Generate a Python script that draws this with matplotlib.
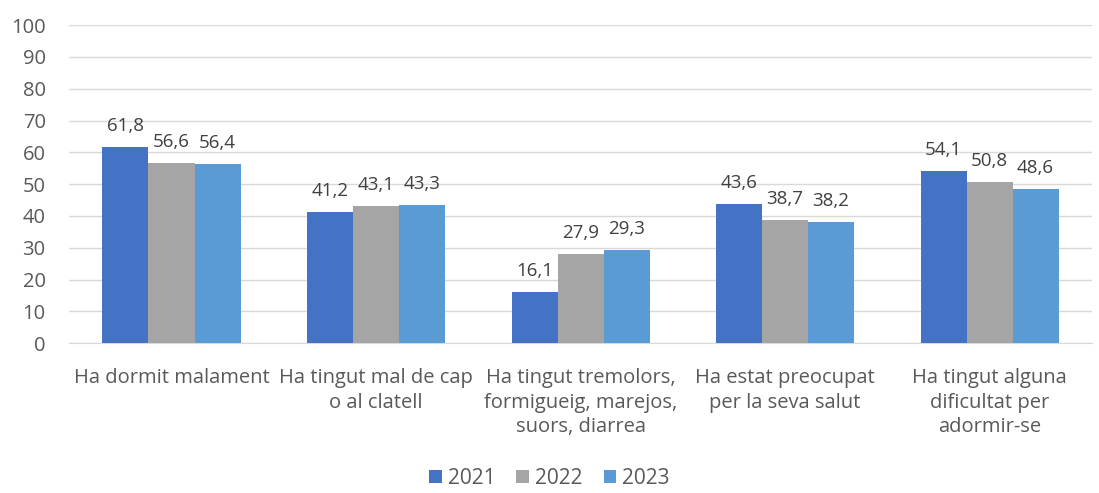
import matplotlib.pyplot as plt
import numpy as np

plt.rcParams['font.family'] = ['Open Sans', 'DejaVu Sans']

categories = ["Ha dormit malament",
              "Ha tingut mal de cap\no al clatell",
              "Ha tingut tremolors,\nformigueig, marejos,\nsuors, diarrea",
              "Ha estat preocupat\nper la seva salut",
              "Ha tingut alguna\ndificultat per\nadormir-se"]
years = ["2021", "2022", "2023"]
v2021 = [61.8, 41.2, 16.1, 43.6, 54.1]
v2022 = [56.6, 43.1, 27.9, 38.7, 50.8]
v2023 = [56.4, 43.3, 29.3, 38.2, 48.6]

colors = ["#4472C4", "#A5A5A5", "#5B9BD5"]
txt = "#595959"

fig = plt.figure(figsize=(10.99, 4.93), dpi=100)
ax = fig.add_axes([0.063, 0.304, 0.9305, 0.645])

x = np.arange(len(categories))
w = 0.225
for i, (vals, yr) in enumerate(zip([v2021, v2022, v2023], years)):
    bars = ax.bar(x + (i - 1) * w, vals, w, color=colors[i], label=yr, zorder=3)
    for b, v in zip(bars, vals):
        ax.text(b.get_x() + b.get_width() / 2, v + 3.8, f"{v:.1f}".replace(".", ","),
                ha="center", va="bottom", fontsize=13.5, color="#404040")

ax.set_xlim(-0.5, len(categories) - 0.5)
ax.set_ylim(0, 100)
ax.set_yticks(range(0, 101, 10))
ax.yaxis.grid(True, color="#D9D9D9", linewidth=1, zorder=0)
for s in ["top", "right", "left"]:
    ax.spines[s].set_visible(False)
ax.spines["bottom"].set_color("#D9D9D9")
ax.tick_params(axis="both", length=0, colors=txt, labelsize=14.5)
ax.tick_params(axis="y", pad=17)
ax.tick_params(axis="x", pad=18, labelsize=14.5)
ax.set_xticks(x)
ax.set_xticklabels(categories, linespacing=1.3)

fig.legend(loc="lower center", ncol=3, bbox_to_anchor=(0.5, -0.03), frameon=False,
           fontsize=15, labelcolor=txt, handlelength=0.6, handleheight=0.6,
           handletextpad=0.3, columnspacing=1.0)

fig.savefig("out.png", dpi=100)
